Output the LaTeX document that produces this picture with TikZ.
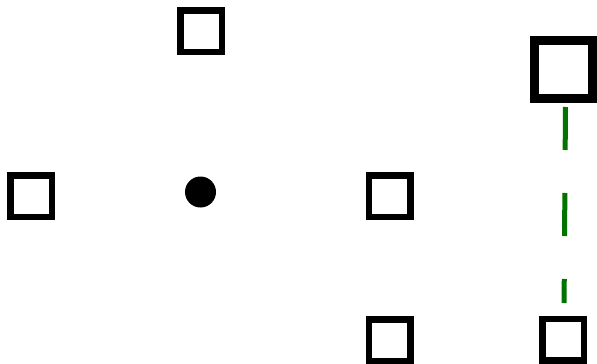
\documentclass[tikz,border=0pt]{standalone}
\begin{document}
\begin{tikzpicture}[x=1pt,y=-1pt,
  sq/.style={draw=black, line width=6.5pt, minimum size=41.5pt, inner sep=0pt, fill=white},
  bigsq/.style={sq, line width=9pt, minimum size=58pt},
  dotnode/.style={circle, fill=black, minimum size=31pt, inner sep=0pt},
  link/.style={draw=green!45!black, line width=5pt, dash pattern=on 43pt off 43pt}]
\useasboundingbox (0,0) rectangle (597,364);
\node[sq] (top) at (201,31) {};
\node[sq] (left) at (31,196) {};
\node[dotnode] (dot) at (200.5,192) {};
\node[sq] (mid) at (389.5,196) {};
\node[sq] (bot) at (389.5,340) {};
\node[bigsq] (big) at (563.5,69.5) {};
\node[sq] (br) at (563,339.5) {};
\draw[link, shorten <=4pt, shorten >=12.5pt] ([xshift=2pt]big.south) -- ([xshift=1pt]br.north);
\end{tikzpicture}
\end{document}
